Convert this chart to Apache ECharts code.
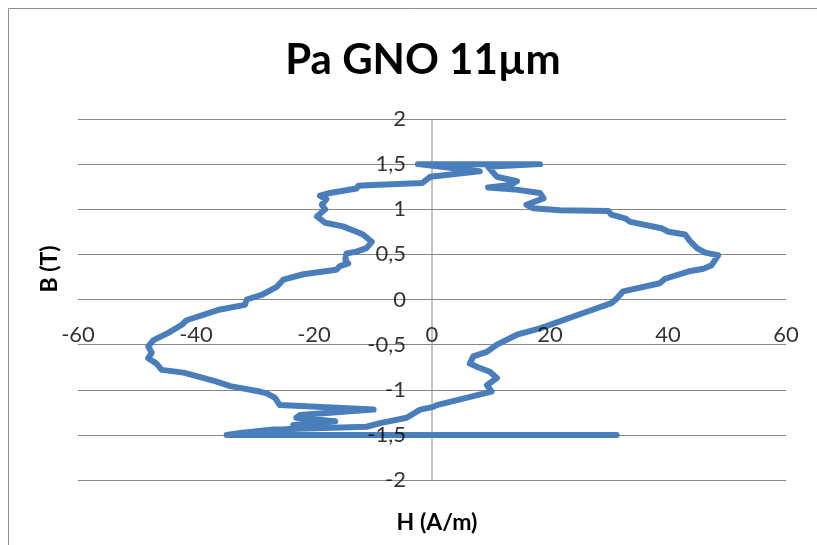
<!DOCTYPE html>
<html>
<head>
<meta charset="utf-8">
<script src="https://cdn.jsdelivr.net/npm/echarts@6/dist/echarts.min.js"></script>
<style>
  html, body { margin: 0; padding: 0; background: #ffffff; }
  #chart { width: 817px; height: 545px; }
</style>
</head>
<body>
<div id="chart"></div>
<script>
// Hysteresis loop B(H), traced point by point
const hValues = [
  31.3, -34.8, -32.5, -27.0, -23.0,
  -23.5, -16.4, -23.0, -22.4, -9.9, -25.8, -26.6, -28.0, -29.2,
  -34.2, -36.5, -39.9, -42.1, -45.8, -46.7, -48.1, -47.5, -48.1, -47.2,
  -44.7, -42.4, -41.6, -35.9, -31.7, -31.4, -28.9, -26.3, -25.2, -21.8,
  -16.2, -15.6, -14.2, -14.7, -14.5, -12.8, -11.1, -10.2, -11.7, -12.8,
  -15.1, -18.1, -19.5, -18.1, -18.7, -17.9, -19.0, -17.3, -12.8, -12.5,
  -10.0, -1.7, -0.3, 8.1,
  -2.4, 18.3, 9.5,
  11.0, 14.4, 13.2, 9.5, 14.0, 18.3, 18.9, 16.0, 17.2, 21.7,
  29.9, 30.4, 32.7, 33.6, 38.9, 40.1, 42.9, 43.7, 44.9, 46.3,
  48.5, 47.4, 46.0, 43.4, 39.5, 38.6, 32.4, 31.3, 30.4, 26.5,
  18.3, 14.4, 11.0, 9.3, 7.0, 6.4, 7.8, 9.8, 11.0, 9.3,
  10.1, 0.8, 0.2, -2.0, -4.3, -8.8, -11.1, -26.9, -32.5, -34.8
];
const bValues = [
  -1.50, -1.50, -1.48, -1.45, -1.43,
  -1.39, -1.35, -1.31, -1.28, -1.22, -1.17, -1.09, -1.04, -1.02,
  -0.96, -0.91, -0.85, -0.81, -0.78, -0.71, -0.65, -0.59, -0.52, -0.45,
  -0.37, -0.28, -0.23, -0.11, -0.06, 0.00, 0.05, 0.14, 0.22, 0.28,
  0.33, 0.37, 0.40, 0.44, 0.51, 0.53, 0.57, 0.64, 0.72, 0.75,
  0.81, 0.85, 0.92, 1.00, 1.05, 1.11, 1.15, 1.18, 1.23, 1.26,
  1.27, 1.29, 1.36, 1.42,
  1.50, 1.50, 1.47,
  1.36, 1.31, 1.27, 1.24, 1.22, 1.18, 1.12, 1.05, 1.01, 0.99,
  0.98, 0.94, 0.90, 0.86, 0.79, 0.75, 0.72, 0.65, 0.57, 0.52,
  0.49, 0.38, 0.34, 0.31, 0.23, 0.18, 0.09, 0.01, -0.04, -0.13,
  -0.32, -0.39, -0.50, -0.58, -0.63, -0.71, -0.75, -0.80, -0.87, -0.95,
  -1.02, -1.17, -1.19, -1.22, -1.31, -1.37, -1.41, -1.44, -1.48, -1.50
];

// Tick values for both axes (labels sit on the crossing axes)
const hTickValues = [-60, -40, -20, 0, 20, 40, 60];
const bTickValues = [-2, -1.5, -1, -0.5, 0, 0.5, 1, 1.5, 2];

const titleText = 'Pa GNO 11µm';
const xTitle = 'H (A/m)';
const yTitle = 'B (T)';

const points = hValues.map((h, i) => [h, bValues[i]]);
const hTickPoints = hTickValues.map(h => [h, 0]);
const bTickPoints = bTickValues.map(b => [0, b]);

const gridColor = '#868686';
const labelFont = { fontFamily: 'Lato', fontSize: 22, color: '#000' };
const chart = echarts.init(document.getElementById('chart'), null, { renderer: 'canvas' });

chart.setOption({
  animation: false,
  backgroundColor: '#ffffff',
  textStyle: { fontFamily: 'Lato' },
  title: {
    text: titleText,
    left: 418,
    top: 34,
    textAlign: 'center',
    textStyle: { fontFamily: 'Lato', fontWeight: 'bold', fontSize: 42, color: '#000' }
  },
  graphic: [
    {
      type: 'rect',
      shape: { x: 8.5, y: 8.5, width: 900, height: 700 },
      style: { fill: 'none', stroke: '#8c8c8c', lineWidth: 1 },
      silent: true
    },
    {
      type: 'text',
      x: 437,
      y: 523,
      style: { text: xTitle, font: 'bold 23px Lato', fill: '#000', align: 'center', verticalAlign: 'middle' }
    },
    {
      type: 'text',
      x: 50,
      y: 269,
      rotation: Math.PI / 2,
      style: { text: yTitle, font: 'bold 23px Lato', fill: '#000', align: 'center', verticalAlign: 'middle' }
    }
  ],
  grid: { left: 78, right: 31, top: 119, bottom: 65, containLabel: false },
  xAxis: {
    type: 'value',
    min: -60,
    max: 60,
    interval: 20,
    axisLine: { show: false },
    axisTick: { show: false },
    splitLine: { show: false },
    axisLabel: { show: false }
  },
  yAxis: {
    type: 'value',
    min: -2,
    max: 2,
    interval: 0.5,
    axisLine: { show: false },
    axisTick: { show: false },
    splitLine: { show: true, lineStyle: { color: gridColor, width: 1 } },
    axisLabel: { show: false }
  },
  series: [
    {
      // vertical axis line through H = 0
      type: 'line',
      data: [[0, -2], [0, 2]],
      symbol: 'none',
      lineStyle: { color: gridColor, width: 1 },
      silent: true,
      z: 1
    },
    {
      type: 'line',
      data: points,
      showSymbol: false,
      symbol: 'none',
      smooth: false,
      lineStyle: { color: '#4a7ebb', width: 6, join: 'round', cap: 'round' },
      z: 3
    },
    {
      // H tick labels below the B = 0 line
      type: 'scatter',
      data: hTickPoints,
      symbolSize: 0,
      silent: true,
      z: 4,
      label: {
        show: true,
        position: 'bottom',
        distance: 24,
        ...labelFont,
        formatter: p => String(p.value[0])
      }
    },
    {
      // B tick labels left of the H = 0 line
      type: 'scatter',
      data: bTickPoints,
      symbolSize: 0,
      silent: true,
      z: 4,
      label: {
        show: true,
        position: 'left',
        distance: 26,
        ...labelFont,
        formatter: p => String(p.value[1]).replace('.', ',')
      }
    }
  ]
});
</script>
</body>
</html>
